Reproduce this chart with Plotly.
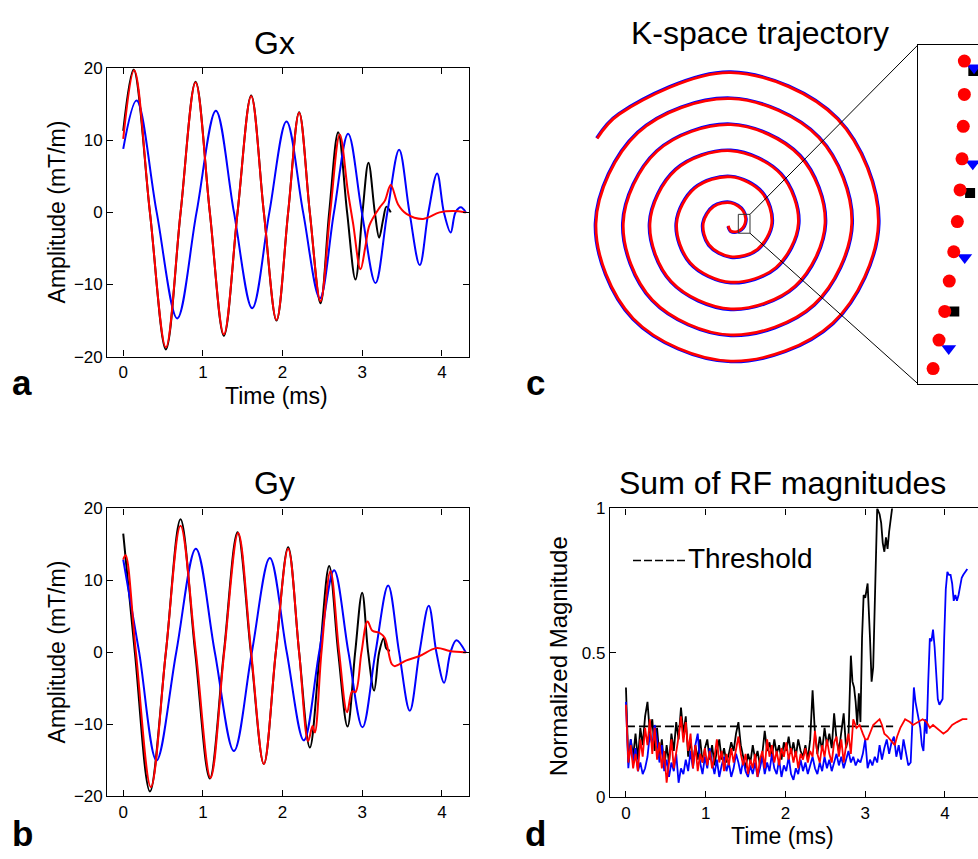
import numpy as np
import plotly.graph_objects as go

FONT = "Liberation Sans, Arial, Helvetica, sans-serif"
W, H = 978, 859

# ---------------- Gx gradient waveforms (time in ms, amplitude in mT/m) ----------------
gx_black_t = [0.0, 0.13, 0.335, 0.535, 0.72, 0.908, 1.087, 1.263, 1.435, 1.606, 1.765, 1.924,
              2.07, 2.208, 2.342, 2.476, 2.585, 2.698, 2.81, 2.915, 3.003, 3.078, 3.158, 3.212,
              3.262, 3.304, 3.358]
gx_black = [11.3, 19.8, 0, -19.0, 0, 18.1, 0, -17.1, 0, 16.2, 0, -15.0,
            0, 13.9, 0, -12.6, 0, 11.1, 0, -9.3, 0, 6.9, 0, -3.5,
            -1.0, 0.8, 0.0]

gx_red_t = [0.0, 0.138, 0.335, 0.535, 0.72, 0.908, 1.087, 1.263, 1.435, 1.606, 1.765, 1.924,
            2.07, 2.208, 2.342, 2.476, 2.598, 2.718, 2.82, 2.886, 2.978, 3.04, 3.09, 3.22,
            3.283, 3.358, 3.45, 3.555, 3.764, 3.97, 4.14, 4.30]
gx_red = [10.2, 19.7, 0, -18.7, 0, 18.0, 0, -16.9, 0, 16.1, 0, -14.9,
          0, 13.8, 0, -12.3, 0, 10.8, 2.9, -1.6, -7.9, -4.7, -1.8, 0.7,
          1.6, 3.8, 1.1, -0.2, -0.9, 0.0, 0.2, 0.0]

gx_blue_t = [0.0, 0.167, 0.42, 0.678, 0.92, 1.163, 1.39, 1.619, 1.834, 2.049, 2.258, 2.468,
             2.645, 2.823, 2.995, 3.166, 3.315, 3.463, 3.593, 3.722, 3.83, 3.94, 4.025, 4.11,
             4.17, 4.237, 4.30]
gx_blue = [8.8, 15.5, 0, -14.7, 0, 14.1, 0, -13.3, 0, 12.6, 0, -11.9,
           0, 10.9, 0, -9.8, 0, 8.7, 0, -7.3, 0, 5.4, 0, -2.8,
           0, 0.7, 0.0]

# ---------------- Gy gradient waveforms ----------------
gy_black_t = [0.0, 0.146, 0.335, 0.535, 0.719, 0.903, 1.087, 1.263, 1.435, 1.602, 1.765, 1.915,
              2.07, 2.208, 2.342, 2.468, 2.585, 2.698, 2.815, 2.911, 2.999, 3.074, 3.149, 3.212,
              3.271, 3.30, 3.346]
gy_black = [16.5, 0, -19.3, 0, 18.5, 0, -17.5, 0, 16.7, 0, -15.5, 0,
            14.6, 0, -13.2, 0, 12.0, 0, -10.3, 0, 8.3, 0, -5.3, 0,
            2.0, 0.6, 0.2]

gy_red_t = [0.0, 0.03, 0.159, 0.347, 0.535, 0.719, 0.912, 1.096, 1.267, 1.443, 1.606, 1.765,
            1.915, 2.07, 2.208, 2.321, 2.376, 2.405, 2.488, 2.601, 2.71, 2.81, 2.873, 2.915,
            2.99, 3.066, 3.128, 3.22, 3.283, 3.37, 3.409, 3.555, 3.72, 3.93, 4.10, 4.30]
gy_red = [12.9, 13.5, 0, -18.7, 0, 17.6, 0, -17.4, 0, 16.6, 0, -15.5,
          0, 14.4, 0, -12.3, -10.2, -11.1, 0, 11.3, 0, -8.3, -5.4, -5.5,
          0, 4.3, 3.0, 2.7, 2.0, -1.6, -1.9, -1.1, -0.5, 0.6, 0.2, 0.0]

gy_blue_t = [0.0, 0.2, 0.418, 0.665, 0.912, 1.15, 1.389, 1.614, 1.84, 2.053, 2.267, 2.459,
             2.647, 2.827, 3.003, 3.166, 3.325, 3.463, 3.597, 3.718, 3.835, 3.931, 4.028, 4.107,
             4.182, 4.30]
gy_blue = [12.9, 0, -15.0, 0, 14.4, 0, -13.7, 0, 13.1, 0, -12.2, 0,
           11.4, 0, -10.4, 0, 9.3, 0, -8.1, 0, 6.5, 0, -4.2, 0,
           1.7, 0.0]

# ---------------- k-space spiral: radius every 45 degrees (k units) ----------------
spiral_theta_deg = list(range(-135, 1936, 45)) + [1947]
spiral_red_r = [3.5, 7.8, 11.0, 14.2, 17.6, 20.9, 24.2, 27.5, 30.8, 34.1, 37.5, 40.9,
                44.2, 47.5, 50.8, 54.1, 57.1, 60.1, 63.8, 67.5, 70.8, 74.2, 77.5, 80.8,
                84.1, 87.5, 90.8, 94.2, 97.5, 100.9, 104.2, 107.5, 110.8, 114.1, 117.5, 120.9,
                124.2, 127.5, 131.1, 134.8, 137.8, 140.8, 144.1, 147.5, 150.8, 154.2, 157.8, 159.3]
spiral_blue_r = [4.3, 8.6, 11.8, 15.0, 18.4, 21.8, 25.1, 28.4, 31.7, 35.0, 38.4, 41.8,
                 45.1, 48.4, 51.7, 55.0, 58.0, 61.0, 64.7, 68.4, 71.7, 75.1, 78.4, 81.7,
                 85.0, 88.4, 91.7, 95.1, 98.4, 101.8, 105.1, 108.4, 111.7, 115.0, 118.4, 121.8,
                 125.1, 128.4, 132.0, 135.7, 138.7, 141.7, 145.0, 148.4, 151.7, 155.1, 158.7, 160.2]

# zoomed region near the k-space centre
zoom_box = dict(x0=7.5, x1=19.2, y0=-10.1, y1=9.2)
zoom_red_kx = [10.08, 10.08, 10.02, 9.95, 9.84, 9.69, 9.49, 9.24, 8.99, 8.67, 8.34]
zoom_red_ky = [8.28, 6.38, 4.56, 2.71, 0.94, -0.86, -2.58, -4.25, -5.98, -7.61, -9.23]
zoom_blue_kx = [10.62, 10.55, 10.10, 9.21]
zoom_blue_ky = [7.90, 2.43, -2.90, -8.09]
zoom_black_kx = [10.58, 10.40, 9.52]
zoom_black_ky = [7.72, 0.76, -5.98]

# ---------------- Sum of RF magnitudes (normalized) ----------------
rf_dt = 0.03
rf_black_noisy = [0.38, 0.12, 0.20, 0.14, 0.22, 0.13, 0.24, 0.18, 0.28, 0.33, 0.22, 0.27,
                  0.16, 0.24, 0.14, 0.20, 0.10, 0.18, 0.12, 0.22, 0.16, 0.26, 0.20, 0.31,
                  0.22, 0.28, 0.14, 0.20, 0.11, 0.18, 0.13, 0.20, 0.12, 0.17, 0.20, 0.13,
                  0.18, 0.11, 0.16, 0.20, 0.13, 0.17, 0.12, 0.15, 0.19, 0.16, 0.22, 0.26,
                  0.18, 0.14, 0.10, 0.15, 0.12, 0.18, 0.13, 0.16, 0.11, 0.15, 0.23, 0.16,
                  0.19, 0.14, 0.20, 0.15, 0.18, 0.13, 0.19, 0.16, 0.21, 0.15, 0.19, 0.14,
                  0.20, 0.16, 0.14, 0.18, 0.13, 0.20, 0.37, 0.22, 0.15, 0.21, 0.16, 0.24,
                  0.18, 0.22, 0.17, 0.29, 0.20, 0.16, 0.23, 0.29, 0.17, 0.21]
rf_black_tail_t = [2.80, 2.82, 2.84, 2.86, 2.88, 2.90, 2.92, 2.94, 2.96, 2.98, 3.00, 3.03,
                   3.06, 3.08, 3.10, 3.13, 3.15, 3.18, 3.20, 3.22, 3.24, 3.26, 3.28, 3.30,
                   3.33, 3.36]
rf_black_tail = [0.30, 0.49, 0.40, 0.38, 0.33, 0.25, 0.36, 0.26, 0.55, 0.70, 0.69, 0.74,
                 0.55, 0.40, 0.45, 0.80, 1.00, 0.98, 0.95, 0.88, 0.85, 0.90, 0.86, 0.92,
                 1.00, 1.05]

rf_blue_noisy = [0.33, 0.10, 0.20, 0.12, 0.17, 0.09, 0.12, 0.08, 0.10, 0.14, 0.22, 0.18,
                 0.25, 0.20, 0.12, 0.18, 0.09, 0.13, 0.07, 0.12, 0.09, 0.15, 0.05, 0.10,
                 0.08, 0.13, 0.09, 0.16, 0.10, 0.18, 0.22, 0.12, 0.08, 0.14, 0.10, 0.17,
                 0.12, 0.08, 0.13, 0.07, 0.11, 0.14, 0.09, 0.12, 0.07, 0.10, 0.15, 0.12,
                 0.08, 0.13, 0.09, 0.07, 0.11, 0.08, 0.12, 0.07, 0.10, 0.14, 0.08, 0.12,
                 0.09, 0.15, 0.10, 0.08, 0.13, 0.07, 0.11, 0.09, 0.14, 0.08, 0.06, 0.10,
                 0.08, 0.13, 0.09, 0.12, 0.08, 0.11, 0.14, 0.10, 0.08, 0.12, 0.09, 0.14,
                 0.10, 0.13, 0.09, 0.12, 0.15, 0.11, 0.14, 0.10, 0.13, 0.16]
rf_blue_tail_t = [2.82, 2.85, 2.88, 2.91, 2.94, 2.97, 3.00, 3.03, 3.06, 3.09, 3.12, 3.15,
                  3.18, 3.21, 3.24, 3.27, 3.30, 3.33, 3.36, 3.39, 3.42, 3.45, 3.48, 3.51,
                  3.54, 3.57, 3.59, 3.61, 3.63, 3.65, 3.67, 3.69, 3.71, 3.73, 3.75, 3.77,
                  3.79, 3.81, 3.83, 3.85, 3.87, 3.89, 3.91, 3.93, 3.95, 3.97, 3.99, 4.01,
                  4.03, 4.05, 4.07, 4.09, 4.11, 4.13, 4.15, 4.17, 4.19, 4.21, 4.23, 4.25, 4.28]
rf_blue_tail = [0.12, 0.14, 0.11, 0.13, 0.12, 0.15, 0.20, 0.10, 0.13, 0.11, 0.14, 0.12,
                0.18, 0.13, 0.17, 0.20, 0.15, 0.19, 0.21, 0.14, 0.18, 0.13, 0.20, 0.15,
                0.11, 0.12, 0.25, 0.38, 0.33, 0.30, 0.28, 0.24, 0.18, 0.16, 0.27, 0.22,
                0.40, 0.55, 0.54, 0.58, 0.52, 0.42, 0.34, 0.32, 0.33, 0.34, 0.55, 0.72,
                0.78, 0.77, 0.77, 0.74, 0.68, 0.70, 0.68, 0.70, 0.73, 0.76, 0.77, 0.78, 0.79]

rf_red_noisy = [0.32, 0.12, 0.18, 0.10, 0.15, 0.09, 0.20, 0.14, 0.24, 0.18, 0.27, 0.15,
                0.24, 0.13, 0.19, 0.10, 0.16, 0.05, 0.12, 0.20, 0.10, 0.15, 0.21, 0.28,
                0.19, 0.26, 0.16, 0.22, 0.10, 0.18, 0.09, 0.15, 0.12, 0.17, 0.11, 0.16,
                0.10, 0.14, 0.20, 0.12, 0.16, 0.09, 0.15, 0.11, 0.17, 0.12, 0.16, 0.21,
                0.15, 0.11, 0.15, 0.08, 0.13, 0.10, 0.15, 0.07, 0.13, 0.16, 0.10, 0.20,
                0.14, 0.18, 0.12, 0.16, 0.11, 0.17, 0.14, 0.19, 0.13, 0.17, 0.12, 0.16,
                0.10, 0.15, 0.13, 0.17, 0.12, 0.16, 0.14, 0.23, 0.15, 0.12, 0.18, 0.14,
                0.20, 0.15, 0.12, 0.19, 0.21, 0.14, 0.20, 0.12, 0.18, 0.22]
rf_red_tail_t = [2.82, 2.85, 2.89, 2.93, 2.97, 3.00, 3.03, 3.06, 3.10, 3.14, 3.18, 3.21,
                 3.24, 3.28, 3.31, 3.34, 3.37, 3.40, 3.44, 3.50, 3.56, 3.60, 3.66, 3.72,
                 3.77, 3.81, 3.85, 3.89, 3.93, 3.98, 4.03, 4.09, 4.15, 4.22, 4.28]
rf_red_tail = [0.15, 0.27, 0.24, 0.25, 0.22, 0.20, 0.20, 0.22, 0.25, 0.26, 0.27, 0.25,
               0.22, 0.21, 0.20, 0.19, 0.18, 0.21, 0.24, 0.27, 0.26, 0.25, 0.26, 0.27,
               0.26, 0.24, 0.25, 0.24, 0.23, 0.22, 0.23, 0.25, 0.26, 0.27, 0.27]

threshold_t = [0.0, 3.35]
threshold_level = 0.245


def sampled_times(values, dt):
    return [round(i * dt, 4) for i in range(len(values))]


def px_x(px):
    return px / W


def px_y(py):
    return 1 - py / H


def spiral_xy(theta_deg, radii):
    th = np.deg2rad(np.asarray(theta_deg, dtype=float))
    r = np.asarray(radii, dtype=float)
    return r * np.cos(th), r * np.sin(th)


fig = go.Figure()


def wave(x, y, color, xa, ya, width=2.0):
    fig.add_trace(go.Scatter(x=x, y=y, mode="lines", xaxis=xa, yaxis=ya,
                             line=dict(color=color, width=width, shape="spline", smoothing=1.0),
                             hoverinfo="skip", showlegend=False))


# panel a: Gx
wave(gx_black_t, gx_black, "black", "x", "y")
wave(gx_blue_t, gx_blue, "blue", "x", "y")
wave(gx_red_t, gx_red, "red", "x", "y")

# panel b: Gy
wave(gy_black_t, gy_black, "black", "x2", "y2")
wave(gy_blue_t, gy_blue, "blue", "x2", "y2")
wave(gy_red_t, gy_red, "red", "x2", "y2")

# panel c: spiral trajectory
bx, by = spiral_xy(spiral_theta_deg, spiral_blue_r)
rx, ry = spiral_xy(spiral_theta_deg, spiral_red_r)
fig.add_trace(go.Scatter(x=bx, y=by, mode="lines", xaxis="x3", yaxis="y3",
                         line=dict(color="blue", width=2.8, shape="spline", smoothing=1.0),
                         hoverinfo="skip", showlegend=False))
fig.add_trace(go.Scatter(x=rx, y=ry, mode="lines", xaxis="x3", yaxis="y3",
                         line=dict(color="red", width=2.8, shape="spline", smoothing=1.0),
                         hoverinfo="skip", showlegend=False))

# magnified samples near the centre
fig.add_trace(go.Scatter(x=zoom_black_kx, y=zoom_black_ky, mode="markers", xaxis="x4", yaxis="y4",
                         marker=dict(symbol="square", size=10, color="black"),
                         hoverinfo="skip", showlegend=False))
fig.add_trace(go.Scatter(x=zoom_blue_kx, y=zoom_blue_ky, mode="markers", xaxis="x4", yaxis="y4",
                         marker=dict(symbol="triangle-down", size=13, color="blue"),
                         hoverinfo="skip", showlegend=False))
fig.add_trace(go.Scatter(x=zoom_red_kx, y=zoom_red_ky, mode="markers", xaxis="x4", yaxis="y4",
                         marker=dict(symbol="circle", size=13, color="red"),
                         hoverinfo="skip", showlegend=False))

# panel d: RF magnitude sums
fig.add_trace(go.Scatter(x=threshold_t, y=[threshold_level, threshold_level], mode="lines",
                         xaxis="x5", yaxis="y5",
                         line=dict(color="black", width=1.6, dash="9px,4px"),
                         hoverinfo="skip", showlegend=False))
for noisy, tail_t, tail, color in [
    (rf_black_noisy, rf_black_tail_t, rf_black_tail, "black"),
    (rf_blue_noisy, rf_blue_tail_t, rf_blue_tail, "blue"),
    (rf_red_noisy, rf_red_tail_t, rf_red_tail, "red"),
]:
    t = sampled_times(noisy, rf_dt) + tail_t
    v = noisy + tail
    fig.add_trace(go.Scatter(x=t, y=v, mode="lines", xaxis="x5", yaxis="y5",
                             line=dict(color=color, width=1.8),
                             hoverinfo="skip", showlegend=False))

axis_style = dict(showline=True, linecolor="black", linewidth=1.3, ticks="inside", ticklen=6,
                  tickwidth=1.2, tickcolor="black", showgrid=False, zeroline=False,
                  tickfont=dict(family=FONT, size=17, color="black"), fixedrange=True)

wave_x = dict(axis_style, range=[-0.2, 4.34], tickvals=[0, 1, 2, 3, 4], mirror="ticks")
wave_y = dict(axis_style, range=[-20, 20], tickvals=[-20, -10, 0, 10, 20], mirror="ticks")

hidden = dict(visible=False, showgrid=False, zeroline=False, fixedrange=True)

fig.update_layout(
    width=W, height=H,
    margin=dict(l=0, r=0, t=0, b=0),
    paper_bgcolor="white", plot_bgcolor="white",
    font=dict(family=FONT, color="black"),
    showlegend=False,
    xaxis=dict(wave_x, domain=[px_x(107.3), px_x(469)], anchor="y"),
    yaxis=dict(wave_y, domain=[px_y(355.5), px_y(60.5)], anchor="x"),
    xaxis2=dict(wave_x, domain=[px_x(107.3), px_x(469)], anchor="y2"),
    yaxis2=dict(wave_y, domain=[px_y(805.3), px_y(510.7)], anchor="x2"),
    xaxis3=dict(hidden, domain=[px_x(580), px_x(900)], range=[-150.8, 169.2], anchor="y3"),
    yaxis3=dict(hidden, domain=[px_y(380), px_y(60)], range=[-160.8, 159.2], anchor="x3"),
    xaxis4=dict(domain=[px_x(918), 1.0], range=[7.5, 10.84], anchor="y4",
                showline=True, mirror=True, linecolor="black", linewidth=1.3,
                showticklabels=False, ticks="", showgrid=False, zeroline=False, fixedrange=True),
    yaxis4=dict(domain=[px_y(383.3), px_y(36.7)], range=[-10.1, 9.2], anchor="x4",
                showline=True, mirror=False, linecolor="black", linewidth=1.3,
                showticklabels=False, ticks="", showgrid=False, zeroline=False, fixedrange=True),
    xaxis5=dict(axis_style, domain=[px_x(610), 1.0], range=[-0.2, 4.414],
                tickvals=[0, 1, 2, 3, 4], mirror="ticks", anchor="y5"),
    yaxis5=dict(axis_style, domain=[px_y(806), px_y(510.7)], range=[0, 1],
                tickvals=[0, 0.5, 1], ticktext=["0", "0.5", "1"], mirror=False, anchor="x5"),
)

# zoom box and connector lines
fig.add_shape(type="rect", xref="x3", yref="y3", line=dict(color="#333333", width=1),
              **zoom_box)
fig.add_shape(type="line", xref="paper", yref="paper",
              x0=px_x(750), y0=px_y(210), x1=px_x(918), y1=px_y(36.7),
              line=dict(color="black", width=1))
fig.add_shape(type="line", xref="paper", yref="paper",
              x0=px_x(750), y0=px_y(229.3), x1=px_x(918), y1=px_y(383.3),
              line=dict(color="black", width=1))

# threshold key
fig.add_shape(type="line", xref="paper", yref="paper",
              x0=px_x(633), y0=px_y(564), x1=px_x(685), y1=px_y(564),
              line=dict(color="black", width=1.6, dash="8px,3px"))


def label(text, x, y, size, angle=0, bold=False):
    fig.add_annotation(text=f"<b>{text}</b>" if bold else text,
                       x=px_x(x), y=px_y(y), xref="paper", yref="paper",
                       xanchor="center", yanchor="middle", showarrow=False, textangle=angle,
                       font=dict(family=FONT, size=size, color="black"))


label("Gx", 274, 34.5, 32)
label("Gy", 274, 485, 32)
label("K-space trajectory", 760, 25, 32)
label("Sum of RF magnitudes", 782, 485, 32)

label("Time (ms)", 276, 396, 23)
label("Time (ms)", 782, 846, 23)
label("Amplitude (mT/m)", 57, 208, 23, angle=-90)
label("Amplitude (mT/m)", 57, 658, 23, angle=-90)
label("Normalized Magnitude", 558, 662, 24, angle=-90)

label("Threshold", 750, 562, 28)

label("a", 22, 382, 35, bold=True)
label("b", 22, 843, 35, bold=True)
label("c", 535, 382, 35, bold=True)
label("d", 535, 843, 35, bold=True)

fig.write_html("out.html", config={"displayModeBar": False})
